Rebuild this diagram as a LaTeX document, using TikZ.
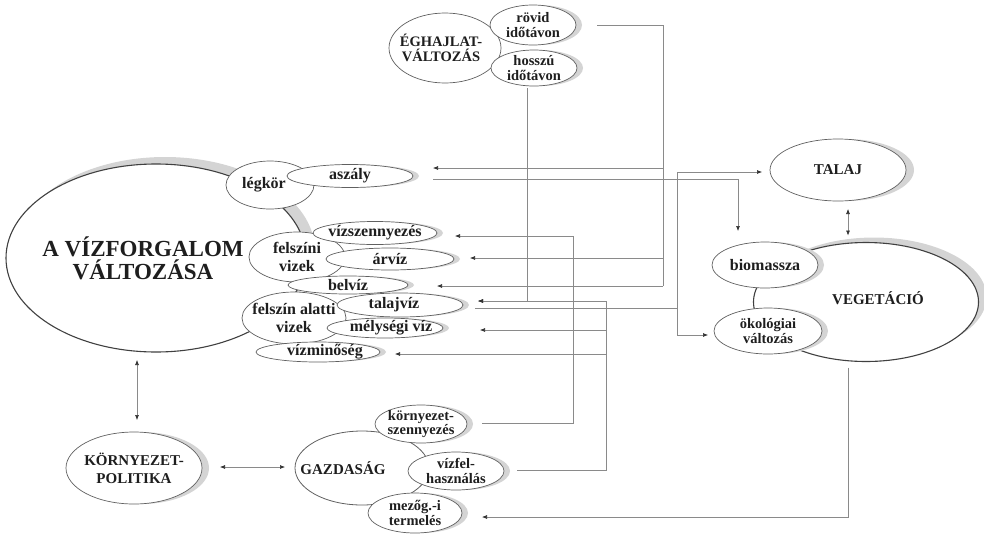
\documentclass[tikz,border=0pt]{standalone}
\usepackage{fontspec}
\setmainfont{Liberation Serif}
\usetikzlibrary{shapes.geometric,arrows.meta,shadows,calc}
\definecolor{ln}{HTML}{8A8A8A}
\definecolor{ol}{HTML}{606060}
\definecolor{sh}{HTML}{D4D4D4}
\definecolor{tx}{HTML}{1E1E1E}
\begin{document}
\begin{tikzpicture}[x=1pt,y=-1pt,
 base/.style={ellipse, inner xsep=-12pt, inner ysep=-7pt, outer sep=0pt, fill=white, draw=ol, line width=0.7pt, text=tx, align=center},
 sub/.style={base, font=\fontsize{16}{17}\selectfont\bfseries},
 two/.style={base, font=\fontsize{14.5}{14.5}\selectfont\bfseries},
 tall/.style={base, font=\fontsize{16}{18}\selectfont\bfseries},
 caps/.style={base, font=\fontsize{15}{18}\selectfont\bfseries},
 shd/.style={drop shadow={shadow xshift=#1, shadow yshift=0pt, fill=sh, draw=none, opacity=1}},
 shd/.default=6pt,
 bigshd/.style 2 args={drop shadow={shadow xshift=#1, shadow yshift=#2, fill=sh, draw=none, opacity=1}},
 line/.style={draw=ln, line width=0.6pt},
 arr/.style={line, -{Latex[length=5pt,width=4pt,color=black!80]}},
 darr/.style={line, {Latex[length=5pt,width=4pt,color=black!80]}-{Latex[length=5pt,width=4pt,color=black!80]}},
]
\useasboundingbox (0,0) rectangle (984,533);

% climate change
\node[base, font=\fontsize{14.5}{15}\selectfont\bfseries, minimum width=112pt, minimum height=70pt] (eg) at (445,48) {\hspace*{-8pt}ÉGHAJLAT-\\\hspace*{-8pt}VÁLTOZÁS};
\node[two, shd, minimum width=86pt, minimum height=40pt] (rovid) at (533,25) {rövid\\időtávon};
\node[two, shd, minimum width=86pt, minimum height=36pt] (hosszu) at (534,68) {hosszú\\időtávon};

% water cycle
\node[base, bigshd={9pt}{7pt}, line width=1.1pt, draw=black!75, minimum width=300pt, minimum height=188pt] (vf) at (156,258) {};
\node[font=\fontsize{23}{23}\selectfont\bfseries, text=tx, align=center, inner sep=0pt] (vft) at (143,258) {A VÍZFORGALOM\\VÁLTOZÁSA};

\node[sub, minimum width=88pt, minimum height=48pt] (legkor) at (270,185) {\hspace*{-12pt}légkör};
\node[sub, shd, minimum width=126pt, minimum height=23pt] (aszaly) at (350,176) {aszály};
\node[tall, minimum width=96pt, minimum height=50pt] (felszini) at (297,257) {felszíni\\vizek};
\node[sub, shd, minimum width=124pt, minimum height=23pt] (vizszenny) at (375,233) {vízszennyezés};
\node[sub, shd, minimum width=128pt, minimum height=22pt] (arviz) at (390,259) {árvíz};
\node[tall, minimum width=104pt, minimum height=52pt] (alatti) at (294,318) {felszín alatti\\vizek};
\node[sub, shd, minimum width=120pt, minimum height=18pt] (belviz) at (348,285) {belvíz};
\node[sub, shd, minimum width=126pt, minimum height=24pt] (talajviz) at (400,305) {\hspace*{-12pt}talajvíz};
\node[sub, shd, minimum width=116pt, minimum height=20pt] (melysegi) at (385,328) {\hspace*{12pt}mélységi víz};
\node[sub, shd, minimum width=124pt, minimum height=20pt] (vizmin) at (318,352) {\hspace*{14pt}vízminőség};

% soil and vegetation
\node[caps, shd=8pt, minimum width=136pt, minimum height=62pt] (talaj) at (838,170) {TALAJ};
\node[base, bigshd={8pt}{5pt}, line width=1.1pt, draw=black!75, minimum width=225pt, minimum height=119pt] (veg) at (866,302) {};
\node[font=\fontsize{15}{18}\selectfont\bfseries, text=tx, inner sep=0pt] (vegt) at (878,298) {VEGETÁCIÓ};
\node[sub, shd, minimum width=106pt, minimum height=46pt] (bio) at (765,265) {biomassza};
\node[two, shd, minimum width=108pt, minimum height=46pt] (okol) at (768,331) {ökológiai\\változás};

% policy and economy
\node[caps, shd=7pt, minimum width=136pt, minimum height=72pt] (kp) at (134,468) {KÖRNYEZET-\\POLITIKA};
\node[base, line width=0.8pt, minimum width=134pt, minimum height=74pt] (gazd) at (362,468) {};
\node[font=\fontsize{15}{18}\selectfont\bfseries, text=tx, inner sep=0pt] (gazdt) at (343,468) {GAZDASÁG};
\node[two, shd, minimum width=92pt, minimum height=38pt] (kornysz) at (421,424) {környezet-\\szennyezés};
\node[two, shd, minimum width=96pt, minimum height=38pt] (vizfel) at (456,471) {vízfel-\\használás};
\node[two, shd, minimum width=94pt, minimum height=40pt] (mezog) at (415,513) {mezőg.-i\\termelés};

% arrow tips and junctions
\coordinate (asIn) at ($(aszaly.east)+(20,-8)$);
\coordinate (asOut) at ($(aszaly.east)+(20,3)$);
\coordinate (vszIn) at ($(vizszenny.east)+(18,3)$);
\coordinate (avIn) at ($(arviz.east)+(16,-1)$);
\coordinate (bvIn) at ($(belviz.east)+(29,1)$);
\coordinate (tvIn) at ($(talajviz.east)+(15,-4)$);
\coordinate (tvOut) at ($(talajviz.east)+(12,3)$);
\coordinate (mlIn) at ($(melysegi.east)+(37,2)$);
\coordinate (vmIn) at ($(vizmin.east)+(15,2)$);
\coordinate (bioIn) at ($(bio.north)+(-27,-11)$);
\coordinate (talIn) at ($(talaj.west)+(-8,2)$);
\coordinate (okIn) at ($(okol.west)+(-6,4)$);
\coordinate (mzIn) at ($(mezog.east)+(20,4)$);
\coordinate (jR) at (663,25);
\coordinate (jK) at (573,236);
\coordinate (jF) at (606,301);
\coordinate (jT) at (677,172);

% short-term climate
\draw[line, shorten <=21pt] (rovid.east) -- (jR) -- (jR |- bvIn);
\draw[arr] (jR |- asIn) -- (asIn);
\draw[arr] (jR |- avIn) -- (avIn);
\draw[arr] (jR |- bvIn) -- (bvIn);
% long-term climate
\draw[arr] ($(hosszu.south)+(-7,2)$) |- (tvIn);
% drought to biomass
\draw[arr] (asOut) -| (bioIn);
% groundwater to soil and ecology
\draw[line] (tvOut) -- (tvOut -| jT);
\draw[line] (jT) -- (jT |- okIn);
\draw[arr] (jT) -- (talIn);
\draw[arr] (jT |- okIn) -- (okIn);
% pollution
\draw[arr] ($(kornysz.east)+(15,-1)$) -| (jK) -- (vszIn);
% water use
\draw[line] ($(vizfel.east)+(13,-1)$) -| (jF);
\draw[arr] (jF) -- (tvIn);
\draw[arr] (jF |- mlIn) -- (mlIn);
\draw[arr] (jF |- vmIn) -- (vmIn);
% vegetation to agriculture
\draw[arr] ($(veg.south)+(-18,6)$) |- (mzIn);
% double arrows
\draw[darr] ($(talaj.south)+(10,8)$) -- ($(veg.north)+(-18,-7)$);
\draw[darr] ($(kp.north)+(3,-72)$) -- ($(kp.north)+(3,-12)$);
\draw[darr] ($(kp.east)+(18,-1)$) -- ($(gazd.west)+(-10,-1)$);
\end{tikzpicture}
\end{document}
